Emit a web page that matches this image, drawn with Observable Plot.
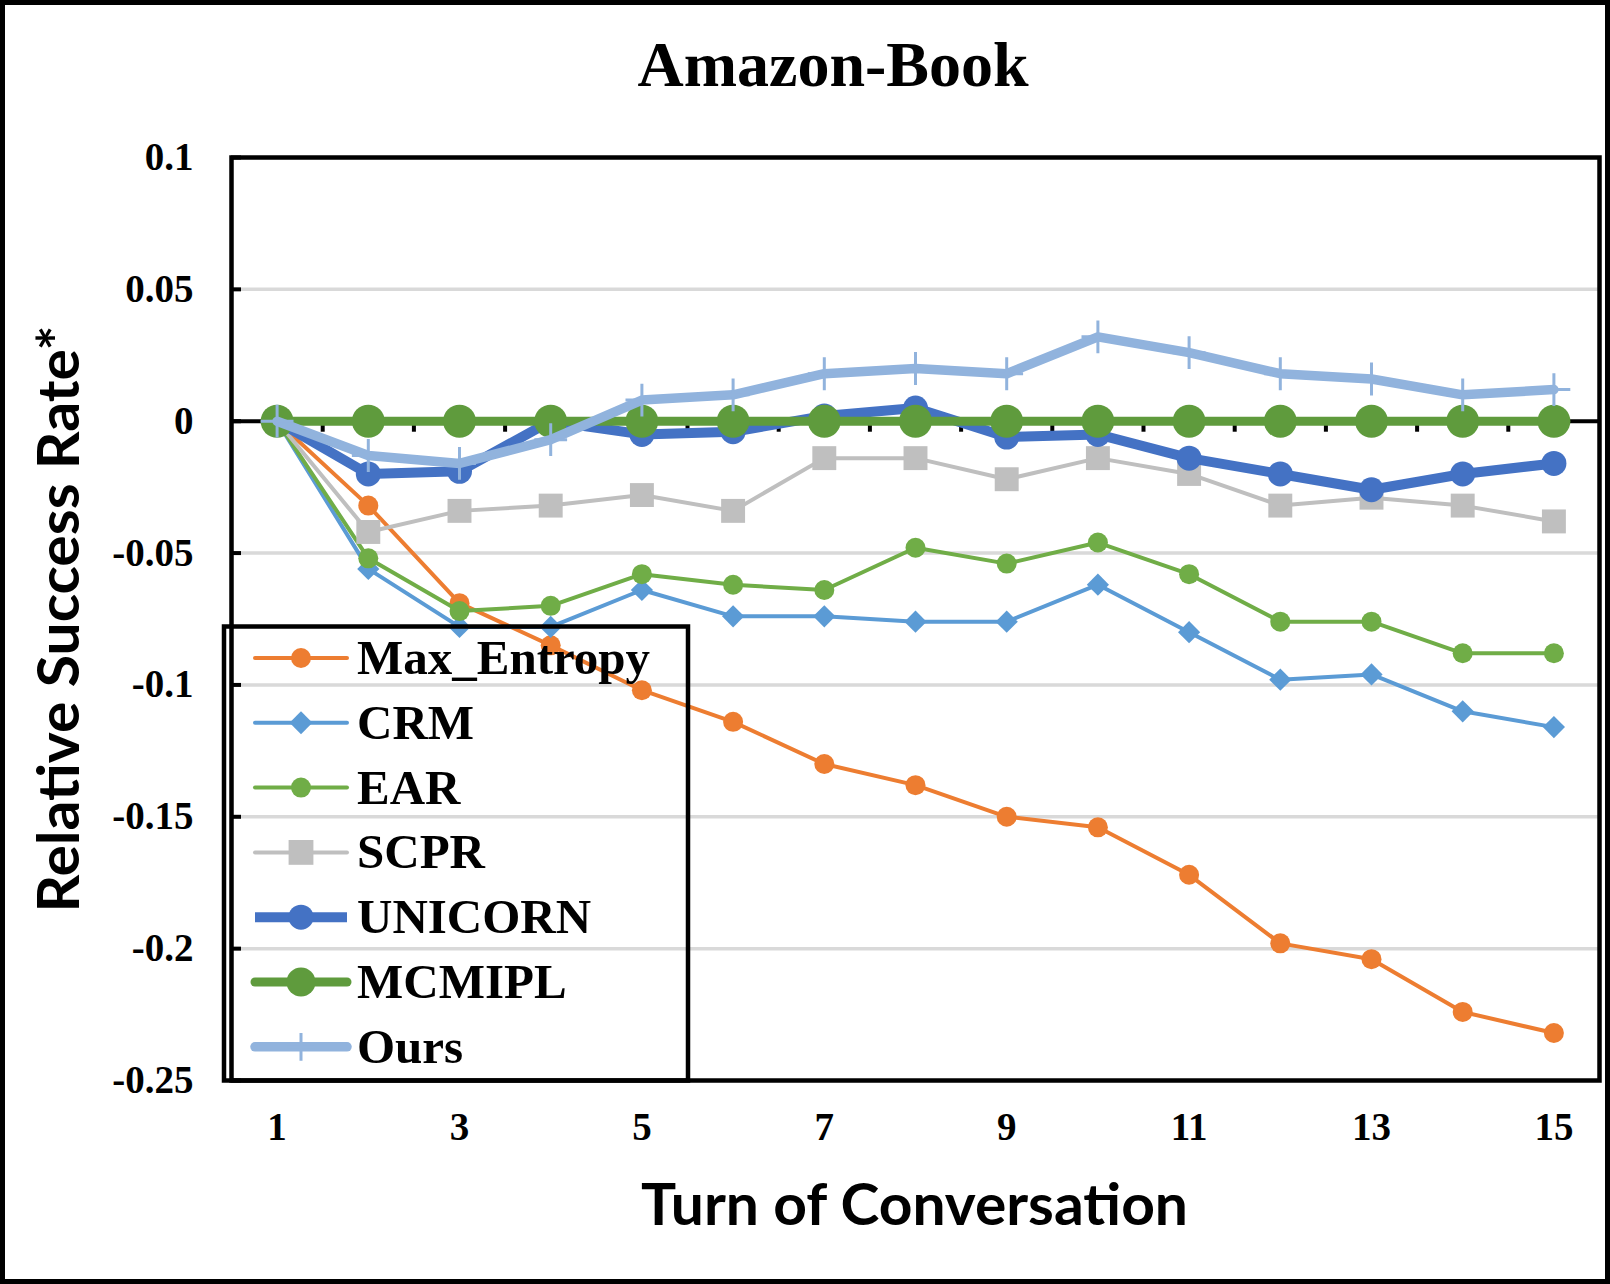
<!DOCTYPE html>
<html>
<head>
<meta charset="utf-8">
<script src="https://cdn.jsdelivr.net/npm/d3@7"></script>
<script src="https://cdn.jsdelivr.net/npm/@observablehq/plot@0.6"></script>
<style>
  html, body { margin: 0; padding: 0; background: #fff; }
  #wrap { position: relative; width: 1610px; height: 1284px; background: #fff; overflow: hidden; }
  #title { position: relative; width: 1610px; height: 110px; }
  #title span { position: absolute; left: 833px; top: 33px; transform: translateX(-50%);
    font-family: "Liberation Serif", "Times New Roman", serif; font-weight: bold; font-size: 64px;
    line-height: 1; white-space: nowrap; color: #000; }
  #chart svg { display: block; }
  #overlay { position: absolute; left: 0; top: 0; pointer-events: none; }
  #border { position: absolute; left: 0; top: 0; width: 1610px; height: 1284px; box-sizing: border-box;
    border: 5px solid #000; pointer-events: none; }
</style>
</head>
<body>
<div id="wrap">
  <div id="title"><span>Amazon-Book</span></div>
  <div id="chart"></div>
  <svg id="overlay" width="1610" height="1284"></svg>
  <div id="border"></div>
</div>
<script>
// ---- data ----
const turns = [1, 2, 3, 4, 5, 6, 7, 8, 9, 10, 11, 12, 13, 14, 15];
const maxEntropy = [0, -0.032, -0.069, -0.085, -0.102, -0.114, -0.130, -0.138, -0.150, -0.154, -0.172, -0.198, -0.204, -0.224, -0.232];
const crm        = [0, -0.056, -0.078, -0.078, -0.064, -0.074, -0.074, -0.076, -0.076, -0.062, -0.080, -0.098, -0.096, -0.110, -0.116];
const ear        = [0, -0.052, -0.072, -0.070, -0.058, -0.062, -0.064, -0.048, -0.054, -0.046, -0.058, -0.076, -0.076, -0.088, -0.088];
const scpr       = [0, -0.042, -0.034, -0.032, -0.028, -0.034, -0.014, -0.014, -0.022, -0.014, -0.020, -0.032, -0.029, -0.032, -0.038];
const unicorn    = [0, -0.020, -0.019, 0.000, -0.005, -0.004, 0.002, 0.005, -0.006, -0.005, -0.014, -0.020, -0.026, -0.020, -0.016];
const mcmipl     = [0, 0, 0, 0, 0, 0, 0, 0, 0, 0, 0, 0, 0, 0, 0];
const ours       = [0, -0.013, -0.016, -0.007, 0.008, 0.010, 0.018, 0.020, 0.018, 0.032, 0.026, 0.018, 0.016, 0.010, 0.012];

const seriesNames = ["Max_Entropy", "CRM", "EAR", "SCPR", "UNICORN", "MCMIPL", "Ours"];
const seriesValues = [maxEntropy, crm, ear, scpr, unicorn, mcmipl, ours];

const yTicks = [0.1, 0.05, 0, -0.05, -0.1, -0.15, -0.2, -0.25];
const gridValues = [0.05, -0.05, -0.1, -0.15, -0.2];
const xTicks = [1, 3, 5, 7, 9, 11, 13, 15];
const xTitle = "Turn of Conversation";
const yTitle = "Relative Success Rate*";

// ---- styles ----
const styles = {
  "Max_Entropy": {color: "#ED7D31", width: 4,   symbol: "circle",   r: 10,   legendR: 10},
  "CRM":         {color: "#5B9BD5", width: 4,   symbol: "diamond2", r: 10,   legendR: 10.3},
  "EAR":         {color: "#70AD47", width: 4,   symbol: "circle",   r: 10,   legendR: 10},
  "SCPR":        {color: "#BFBFBF", width: 4,   symbol: "square",   r: 13.5, legendR: 14},
  "UNICORN":     {color: "#4472C4", width: 10,  symbol: "circle",   r: 12.5, legendR: 12.5},
  "MCMIPL":      {color: "#5F9B3D", width: 9,   symbol: "circle",   r: 16.5, legendR: 14.5},
  "Ours":        {color: "#91B3DD", width: 9.5, symbol: "plus",     r: 10.6, legendR: 9, stroked: true}
};

const rows = seriesNames.flatMap((name, s) => turns.map((t, i) => ({series: name, turn: t, value: seriesValues[s][i]})));
const boundaries = turns.slice(1).map(t => t - 0.5);

const serif = "Liberation Serif, Times New Roman, serif";
const sans = "Lato, Calibri, sans-serif";

const seriesMarks = seriesNames.flatMap(name => {
  const st = styles[name];
  const d = rows.filter(r => r.series === name);
  const line = Plot.line(d, {x: "turn", y: "value", stroke: st.color, strokeWidth: st.width, strokeLinejoin: "round", strokeLinecap: "round"});
  const dot = st.stroked
    ? Plot.dot(d, {x: "turn", y: "value", symbol: st.symbol, r: st.r, fill: "none", stroke: st.color, strokeWidth: 3})
    : Plot.dot(d, {x: "turn", y: "value", symbol: st.symbol, r: st.r, fill: st.color, stroke: "none"});
  return [line, dot];
});

const chart = Plot.plot({
  width: 1610,
  height: 1174,
  marginTop: 47,
  marginBottom: 204,
  marginLeft: 231,
  marginRight: 11,
  x: {type: "linear", domain: [0.5, 15.5]},
  y: {type: "linear", domain: [-0.25, 0.1]},
  style: {background: "transparent", color: "#000", overflow: "visible"},
  marks: [
    Plot.ruleY(gridValues, {stroke: "#D9D9D9", strokeWidth: 3.5}),
    Plot.ruleY(yTicks, {x1: 0.5, x2: 0.5, insetRight: -10, stroke: "#000", strokeWidth: 4}),
    Plot.ruleY([0], {stroke: "#000", strokeWidth: 4}),
    Plot.ruleX(boundaries, {y1: 0, y2: 0, insetBottom: -11, stroke: "#000", strokeWidth: 4}),
    Plot.frame({stroke: "#000", strokeWidth: 4.5}),
    ...seriesMarks,
    Plot.axisY({ticks: yTicks, tickSize: 0, tickPadding: 38, tickFormat: d => String(d), label: null,
      fontSize: 39, fontFamily: serif, fontWeight: "bold"}),
    Plot.axisX({ticks: xTicks, tickSize: 0, tickPadding: 32, tickFormat: d => String(d), label: null,
      fontSize: 39, fontFamily: serif, fontWeight: "bold"}),
    Plot.text([xTitle], {frameAnchor: "bottom", lineAnchor: "middle", textAnchor: "middle", dx: -1, dy: 126.4,
      fontSize: 58, fontFamily: sans, fontWeight: "bold", fill: "#000"}),
    Plot.text([yTitle], {frameAnchor: "left", lineAnchor: "middle", textAnchor: "middle", rotate: -90, dx: -170.6, dy: 0,
      fontSize: 58, fontFamily: sans, fontWeight: "bold", fill: "#000"})
  ]
});
document.getElementById("chart").appendChild(chart);

d3.select(chart).selectAll("text").filter(function() { return this.textContent === xTitle; })
  .attr("textLength", 547).attr("lengthAdjust", "spacingAndGlyphs");
d3.select(chart).selectAll("text").filter(function() { return this.textContent === yTitle; })
  .attr("textLength", 587).attr("lengthAdjust", "spacingAndGlyphs");

// ---- legend (transparent box inside the plot, as in the reference) ----
const ov = d3.select("#overlay");
ov.append("rect").attr("x", 224).attr("y", 626.5).attr("width", 464).attr("height", 454)
  .attr("fill", "none").attr("stroke", "#000").attr("stroke-width", 4.5);
const symbolMap = {circle: d3.symbolCircle, diamond2: d3.symbolDiamond2, square: d3.symbolSquare, plus: d3.symbolPlus};
seriesNames.forEach((name, i) => {
  const st = styles[name];
  const cy = 658 + i * 64.8;
  const g = ov.append("g");
  g.append("line").attr("x1", 255).attr("x2", 347).attr("y1", cy).attr("y2", cy)
    .attr("stroke", st.color).attr("stroke-width", st.width).attr("stroke-linecap", name === "UNICORN" ? "butt" : "round");
  const path = d3.symbol(symbolMap[st.symbol], st.legendR * st.legendR * Math.PI)();
  const p = g.append("path").attr("d", path).attr("transform", `translate(301,${cy})`);
  if (st.stroked) p.attr("fill", "none").attr("stroke", st.color).attr("stroke-width", 3);
  else p.attr("fill", st.color);
  g.append("text").attr("x", 357).attr("y", cy + 16).text(name)
    .attr("font-family", serif).attr("font-weight", "bold").attr("font-size", 49).attr("fill", "#000");
});
</script>
</body>
</html>
